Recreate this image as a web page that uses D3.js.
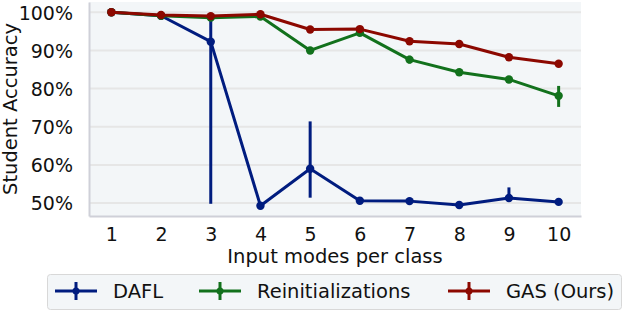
<!DOCTYPE html>
<html>
<head>
<meta charset="utf-8">
<script src="https://cdn.jsdelivr.net/npm/d3@7"></script>
<style>
  body { margin: 0; background: #fff; }
  text { font-family: "DejaVu Sans", sans-serif; fill: #111; }
</style>
</head>
<body>
<div id="chart"></div>
<script>
// data
var modes = [1, 2, 3, 4, 5, 6, 7, 8, 9, 10];
var yTicks = [50, 60, 70, 80, 90, 100];
var seriesNames = ["DAFL", "Reinitializations", "GAS (Ours)"];
var colors = ["#001c7f", "#12711c", "#8c0800"];

var dafl = [100, 99.1, 92.3, 49.3, 59.0, 50.6, 50.5, 49.5, 51.3, 50.3];
var daflLo = [100, 99.1, 49.8, 49.3, 51.4, 50.6, 50.5, 49.5, 50.8, 50.3];
var daflHi = [100, 99.1, 99.0, 49.3, 71.4, 50.6, 50.5, 49.5, 54.1, 50.3];

var reinit = [100, 99.1, 98.6, 98.9, 90.0, 94.6, 87.6, 84.3, 82.4, 78.1];
var reinitLo = [100, 99.1, 98.6, 98.9, 90.0, 94.6, 86.6, 84.3, 82.4, 75.2];
var reinitHi = [100, 99.1, 98.6, 98.9, 90.0, 94.6, 88.6, 84.3, 82.4, 80.7];

var gas = [100, 99.3, 99.0, 99.5, 95.5, 95.6, 92.4, 91.7, 88.2, 86.5];

var series = [
  {vals: dafl, lo: daflLo, hi: daflHi},
  {vals: reinit, lo: reinitLo, hi: reinitHi},
  {vals: gas, lo: gas, hi: gas}
];

// Define chart dimensions
var W = 624, H = 312;
var margin = {top: 2, right: 43, bottom: 96, left: 89},
    width = W - margin.left - margin.right,
    height = H - margin.top - margin.bottom;

var x = d3.scaleLinear().domain([0.55, 10.45]).range([0, width]);
var y = d3.scaleLinear().domain([46.6, 102.7]).range([height, 0]);

var svg = d3.select("#chart").append("svg")
    .attr("width", W)
    .attr("height", H);

var g = svg.append("g")
    .attr("transform", "translate(" + margin.left + "," + margin.top + ")");

// plot background
g.append("rect")
    .attr("width", width)
    .attr("height", height)
    .attr("fill", "#f3f6f8");

// grid lines
g.selectAll(".grid")
  .data(yTicks)
  .enter().append("line")
    .attr("x1", 0)
    .attr("x2", width)
    .attr("y1", function(d) { return y(d); })
    .attr("y2", function(d) { return y(d); })
    .attr("stroke", "#e6e6e6")
    .attr("stroke-width", 2);

// axes
var yAxis = g.append("g")
    .call(d3.axisLeft(y).tickValues(yTicks).tickSize(0).tickPadding(16)
      .tickFormat(function(d) { return d + "%"; }));
yAxis.select(".domain").attr("stroke", "#cfd0d8").attr("stroke-width", 2);
yAxis.selectAll("text").style("font-size", "19px").attr("dy", "0.36em");

var xAxis = g.append("g")
    .attr("transform", "translate(0," + height + ")")
    .call(d3.axisBottom(x).tickValues(modes).tickSize(0).tickPadding(12));
xAxis.select(".domain").attr("stroke", "#cfd0d8").attr("stroke-width", 2);
xAxis.selectAll("text").style("font-size", "19px");

// axis labels
svg.append("text")
    .attr("transform", "translate(17," + (margin.top + height / 2) + ") rotate(-90)")
    .attr("text-anchor", "middle")
    .style("font-size", "19.5px")
    .text("Student Accuracy");

svg.append("text")
    .attr("x", 335)
    .attr("y", 263)
    .attr("text-anchor", "middle")
    .style("font-size", "19.5px")
    .text("Input modes per class");

// lines, error bars, markers
var line = d3.line()
    .x(function(d, i) { return x(modes[i]); })
    .y(function(d) { return y(d); });

series.forEach(function(s, k) {
  var c = colors[k];
  var sg = g.append("g");
  sg.append("path")
      .datum(s.vals)
      .attr("d", line)
      .attr("fill", "none")
      .attr("stroke", c)
      .attr("stroke-width", 3)
      .attr("stroke-linejoin", "round");
  sg.selectAll(".err")
    .data(modes)
    .enter().append("line")
      .attr("x1", function(d) { return x(d); })
      .attr("x2", function(d) { return x(d); })
      .attr("y1", function(d, i) { return y(s.lo[i]); })
      .attr("y2", function(d, i) { return y(s.hi[i]); })
      .attr("stroke", c)
      .attr("stroke-width", 3);
  sg.selectAll(".dot")
    .data(s.vals)
    .enter().append("circle")
      .attr("cx", function(d, i) { return x(modes[i]); })
      .attr("cy", function(d) { return y(d); })
      .attr("r", 4.2)
      .attr("fill", c);
});

// legend
var lg = svg.append("g");
lg.append("rect")
    .attr("x", 47.5)
    .attr("y", 274.5)
    .attr("width", 574)
    .attr("height", 35)
    .attr("rx", 3)
    .attr("fill", "#f3f6f8")
    .attr("stroke", "#d8d8d8");

var legX = [55, 199, 448];
seriesNames.forEach(function(name, k) {
  var lx = legX[k], ly = 291;
  lg.append("line")
      .attr("x1", lx).attr("x2", lx + 42)
      .attr("y1", ly).attr("y2", ly)
      .attr("stroke", colors[k]).attr("stroke-width", 3);
  lg.append("line")
      .attr("x1", lx + 21).attr("x2", lx + 21)
      .attr("y1", ly - 9).attr("y2", ly + 9)
      .attr("stroke", colors[k]).attr("stroke-width", 3);
  lg.append("circle")
      .attr("cx", lx + 21).attr("cy", ly).attr("r", 3.5)
      .attr("fill", colors[k]);
  lg.append("text")
      .attr("x", lx + 58)
      .attr("y", ly)
      .attr("dy", "0.36em")
      .style("font-size", "19.5px")
      .text(name);
});
</script>
</body>
</html>
